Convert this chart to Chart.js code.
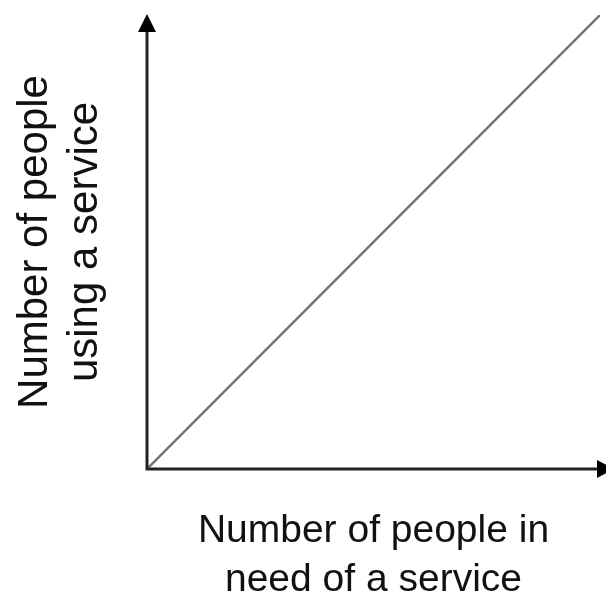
<!DOCTYPE html>
<html>
<head>
<meta charset="utf-8">
<script src="https://cdn.jsdelivr.net/npm/chart.js@4"></script>
<style>
	html, body { margin: 0; padding: 0; background: #fff; }
	#wrap { width: 606px; height: 594px; }
</style>
</head>
<body>
<div id="wrap"><canvas id="serviceChart"></canvas></div>
<script>
// values
const needValues = [0, 100];   // people in need of a service
const usingValues = [0, 100];  // people using a service
const xTitle = ['Number of people in', 'need of a service'];
const yTitle = ['Number of people', 'using a service'];

// draws both axes with arrow heads
const arrowAxes = {
	id: 'arrowAxes',
	afterDatasetsDraw(chart) {
		const ctx = chart.ctx;
		const x0 = chart.scales.x.getPixelForValue(0);
		const y0 = chart.scales.y.getPixelForValue(0);
		const top = chart.chartArea.top;
		const right = chart.width + 8;
		ctx.save();
		ctx.strokeStyle = '#222';
		ctx.lineWidth = 3;
		ctx.beginPath();
		ctx.moveTo(x0, y0 + 1.5);
		ctx.lineTo(x0, top + 10);
		ctx.moveTo(x0 - 1.5, y0);
		ctx.lineTo(right - 10, y0);
		ctx.stroke();

		ctx.fillStyle = '#000';
		// up arrow
		ctx.beginPath();
		ctx.moveTo(x0, top - 1);
		ctx.lineTo(x0 - 9, top + 17);
		ctx.lineTo(x0 + 9, top + 17);
		ctx.closePath();
		ctx.fill();
		// right arrow
		ctx.beginPath();
		ctx.moveTo(right, y0);
		ctx.lineTo(right - 17, y0 - 9);
		ctx.lineTo(right - 17, y0 + 9);
		ctx.closePath();
		ctx.fill();
		ctx.restore();
	}
};

new Chart(document.getElementById('serviceChart'), {
	type: 'scatter',
	data: {
		datasets: [
			{
				data: needValues.map((v, i) => ({ x: v, y: usingValues[i] })),
				showLine: true,
				borderColor: '#737373',
				borderWidth: 2.4,
				pointRadius: 0,
				fill: false
			}
		]
	},
	options: {
		responsive: true,
		maintainAspectRatio: false,
		animation: false,
		layout: {
			padding: { top: 15, right: 6, left: 0, bottom: 0 }
		},
		plugins: {
			legend: { display: false },
			tooltip: { enabled: false }
		},
		scales: {
			x: {
				min: 0,
				max: 100,
				grid: { display: false },
				border: { display: false },
				ticks: { display: false },
				title: {
					display: true,
					text: xTitle,
					color: '#111',
					font: { family: 'Liberation Sans, Arial, sans-serif', size: 39, lineHeight: 1.26 },
					padding: { top: 0, bottom: -11 }
				},
				afterFit: (scale) => { scale.height = 125; }
			},
			y: {
				min: 0,
				max: 100,
				grid: { display: false },
				border: { display: false },
				ticks: { display: false },
				title: {
					display: true,
					text: yTitle,
					color: '#111',
					font: { family: 'Liberation Sans, Arial, sans-serif', size: 42, lineHeight: 1.19 },
					padding: { top: 10, bottom: 0 }
				},
				afterFit: (scale) => { scale.width = 147; }
			}
		}
	},
	plugins: [arrowAxes]
});
</script>
</body>
</html>
